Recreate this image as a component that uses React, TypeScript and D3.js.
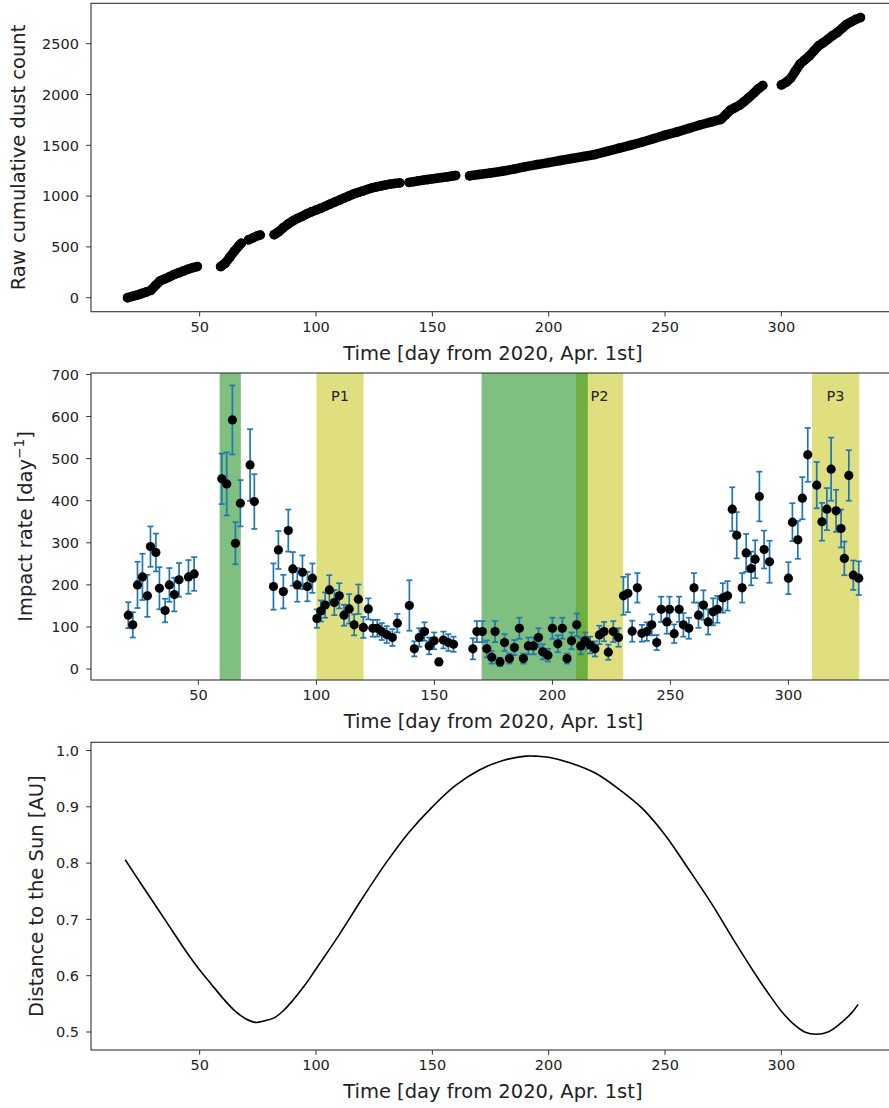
import React from 'react';
import * as d3 from 'd3';

// ---------- Top panel: raw cumulative dust count ----------
const cumDay = [
  19, 21, 23, 25, 27, 29, 31, 33, 35, 37, 39, 41, 43, 45, 47, 49,
  59, 61, 63, 65, 67, 68,
  71, 73, 75, 76,
  82, 84, 86, 88, 90, 92, 94, 96, 98, 100, 102, 104, 106, 108, 110, 112, 114, 116, 118, 120, 122, 124, 126, 128, 130, 132, 134, 136,
  140, 142, 144, 146, 148, 150, 152, 154, 156, 158, 160,
  166, 170, 175, 180, 185, 190, 195, 200, 205, 210, 215, 220, 225, 230, 235, 240, 245, 250, 255, 260, 265, 270, 274, 276, 278, 280, 282, 284, 286, 288, 290, 292,
  300, 302, 304, 306, 308, 310, 312, 314, 316, 318, 320, 322, 324, 326, 328, 330, 332, 334,
];
const cumCount = [
  0, 12, 25, 40, 55, 72, 120, 165, 185, 205, 228, 245, 262, 280, 295, 306,
  306, 340, 400, 460, 515, 537,
  570, 590, 610, 617,
  620, 650, 690, 725, 755, 780, 800, 825, 845, 862, 880, 900, 920, 940, 960, 980, 1000, 1020, 1035, 1050, 1065, 1080, 1090, 1100, 1110, 1118, 1125, 1130,
  1135, 1142, 1150, 1157, 1163, 1170, 1176, 1182, 1188, 1195, 1203,
  1200, 1212, 1228, 1245, 1265, 1290, 1310, 1330, 1350, 1370, 1390, 1410, 1440, 1470, 1500, 1530, 1565, 1600, 1630, 1665, 1700, 1730, 1755, 1800, 1845, 1870, 1895, 1930, 1970, 2010, 2055, 2089,
  2095, 2120, 2160, 2230, 2300, 2340, 2380, 2430, 2480, 2510, 2545, 2580, 2610, 2650, 2690, 2715, 2740, 2757,
];
const cumSegment = [
  0, 0, 0, 0, 0, 0, 0, 0, 0, 0, 0, 0, 0, 0, 0, 0,
  1, 1, 1, 1, 1, 1,
  2, 2, 2, 2,
  3, 3, 3, 3, 3, 3, 3, 3, 3, 3, 3, 3, 3, 3, 3, 3, 3, 3, 3, 3, 3, 3, 3, 3, 3, 3, 3, 3,
  4, 4, 4, 4, 4, 4, 4, 4, 4, 4, 4,
  5, 5, 5, 5, 5, 5, 5, 5, 5, 5, 5, 5, 5, 5, 5, 5, 5, 5, 5, 5, 5, 5, 5, 5, 5, 5, 5, 5, 5, 5, 5, 5,
  6, 6, 6, 6, 6, 6, 6, 6, 6, 6, 6, 6, 6, 6, 6, 6, 6, 6,
];
const topYTicks = [0, 500, 1000, 1500, 2000, 2500];

// ---------- Middle panel: impact rate ----------
const rateDay = [
  20.3, 22.2, 24.2, 26.3, 28.4, 29.7, 32.0, 33.5, 35.9, 37.7, 39.8, 41.8, 45.8, 48.2,
  59.9, 62.0, 64.4, 65.7, 67.8, 71.9, 73.7,
  81.8, 83.9, 86.0, 88.1, 90.0, 91.9, 94.1, 96.2, 98.3,
  100.2, 101.9, 103.7, 105.5, 107.6, 109.7, 111.7, 113.9, 116.0, 117.8, 119.9,
  122.0, 123.9, 125.8, 127.7, 129.8, 132.2, 134.3,
  139.4, 141.5, 143.6, 145.8, 147.8, 149.9, 151.9, 153.8, 155.9, 158.1,
  166.3, 168.0, 170.3, 172.2, 174.3, 175.7, 177.8, 179.7, 181.8, 183.9, 186.0, 187.7, 189.8, 192.0, 194.1, 195.9, 198.1,
  200.0, 202.3, 204.2, 206.2, 208.1, 210.3, 212.0, 213.9, 216.0, 218.0, 219.9, 221.9, 223.7, 225.8, 228.0,
  230.1, 232.0, 233.8, 236.0, 237.9, 240.0, 242.1, 244.2, 246.1, 248.5, 249.6, 251.6, 253.7, 255.5, 257.8,
  260.0, 261.9, 264.0, 266.0, 268.1, 269.9, 272.2, 274.2, 276.2, 278.1, 280.4, 282.1, 284.2, 285.9, 287.7, 289.7, 292.0,
  300.0, 301.7, 304.0, 305.9, 308.2, 312.0, 314.2, 316.3, 318.1, 320.2, 322.3, 323.7, 325.6, 327.5, 329.8,
];
const rateVal = [
  128, 105, 200, 219, 174, 291, 277, 192, 139, 200, 177, 212, 219, 226,
  452, 440, 592, 299, 394, 485, 398,
  196, 283, 184, 329, 238, 200, 230, 196, 216,
  120, 138, 152, 188, 158, 174, 128, 143, 105, 166, 99,
  143, 97, 97, 89, 82, 75, 109,
  151, 48, 75, 89, 55, 67, 17, 69, 63, 59,
  48, 89, 89, 48, 28, 89, 17, 63, 25, 51, 97, 25, 55, 55, 75, 41, 33,
  97, 60, 97, 25, 67, 105, 55, 67, 57, 48, 81, 89, 40, 89, 75,
  174, 180, 90, 193, 85, 89, 105, 63, 142, 112, 142, 84, 142, 105, 97,
  193, 128, 152, 112, 136, 142, 169, 174, 380, 318, 193, 276, 239, 261, 410, 284, 255,
  216, 349, 307, 406, 509, 437, 350, 380, 475, 376, 334, 263, 460, 223, 216,
];
const rateErr = [
  31, 30, 55, 55, 50, 48, 45, 50, 28, 40, 40, 40, 40, 40,
  60, 75, 82, 50, 55, 85, 65,
  55, 45, 40, 50, 40, 40, 40, 35, 35,
  22, 25, 30, 35, 30, 30, 25, 35, 25, 35, 25,
  25, 20, 20, 20, 20, 20, 22,
  60, 18, 22, 22, 20, 20, 8, 20, 20, 18,
  25, 25, 25, 20, 15, 25, 10, 20, 12, 18, 25, 12, 20, 20, 22, 18, 15,
  25, 20, 25, 12, 20, 27, 20, 20, 20, 18, 22, 23, 18, 25, 22,
  45, 45, 25, 35, 20, 22, 25, 18, 30, 28, 30, 22, 30, 28, 25,
  35, 30, 35, 30, 32, 32, 35, 35, 52, 55, 35, 45, 40, 45, 59, 45, 50,
  38, 45, 45, 50, 64, 55, 45, 50, 75, 50, 45, 40, 60, 35, 40,
];
const greenBands = [[59, 68], [170, 215]];
const yellowBands = [[100, 120], [210, 230], [310, 330]];
const periodLabels = ['P1', 'P2', 'P3'];
const midYTicks = [0, 100, 200, 300, 400, 500, 600, 700];

// ---------- Bottom panel: distance to the Sun ----------
const distDay = [
  18, 25, 35, 45, 50, 55, 60, 65, 70, 74, 78, 82, 86, 90, 95, 100, 110, 120, 130, 140, 150, 160, 170, 180,
  190, 195, 200, 210, 220, 230, 240, 250, 260, 270, 280, 290, 295, 300, 305, 310, 315, 320, 325, 330, 333,
];
const distAU = [
  0.806, 0.762, 0.700, 0.638, 0.610, 0.585, 0.560, 0.538, 0.523, 0.517, 0.520, 0.525, 0.538, 0.556, 0.582, 0.612,
  0.673, 0.738, 0.800, 0.855, 0.900, 0.938, 0.965, 0.982,
  0.990, 0.990, 0.988, 0.977, 0.960, 0.932, 0.898, 0.850, 0.790, 0.728, 0.660, 0.595, 0.565, 0.537, 0.515, 0.500,
  0.496, 0.500, 0.514, 0.533, 0.549,
];
const botYTicks = [0.5, 0.6, 0.7, 0.8, 0.9, 1.0];

const xTicks = [50, 100, 150, 200, 250, 300];
const xLabel = 'Time [day from 2020, Apr. 1st]';
const FONT = "'DejaVu Sans', sans-serif";
const TICK_FS = 14.5;
const LABEL_FS = 19.5;
const SPINE = '#333';

function Frame({ xs, ys, yTicks, yFmt, ylabel, ylabelX }: any) {
  const [x0, x1] = xs.range();
  const [yb, yt] = ys.range();
  return (
    <g fontFamily={FONT}>
      <rect x={x0} y={yt} width={x1 - x0} height={yb - yt} fill="none" stroke={SPINE} strokeWidth={1.1} />
      {xTicks.map((t) => (
        <g key={'x' + t}>
          <line x1={xs(t)} x2={xs(t)} y1={yb} y2={yb + 4.8} stroke={SPINE} strokeWidth={1} />
          <text x={xs(t)} y={yb + 9} dy="0.76em" textAnchor="middle" fontSize={TICK_FS} fill="#222">{t}</text>
        </g>
      ))}
      {yTicks.map((t: number) => (
        <g key={'y' + t}>
          <line x1={x0 - 4.8} x2={x0} y1={ys(t)} y2={ys(t)} stroke={SPINE} strokeWidth={1} />
          <text x={x0 - 12} y={ys(t)} dy="0.36em" textAnchor="end" fontSize={TICK_FS} fill="#222">{yFmt(t)}</text>
        </g>
      ))}
      <text x={(x0 + x1) / 2} y={yb + 48} textAnchor="middle" fontSize={LABEL_FS} fill="#222">{xLabel}</text>
      <text transform={`translate(${ylabelX},${(yb + yt) / 2}) rotate(-90)`} dy="0.35em" textAnchor="middle" fontSize={LABEL_FS} fill="#222">{ylabel}</text>
    </g>
  );
}

export default function App() {
  const xTop = d3.scaleLinear().domain([3.3, 348.7]).range([91, 894.7]);
  const yTop = d3.scaleLinear().domain([-138, 2898]).range([311.7, 3.3]);
  const xMid = d3.scaleLinear().domain([4.5, 345.5]).range([91, 895.8]);
  const yMid = d3.scaleLinear().domain([-26, 703.5]).range([680, 373]);
  const xBot = d3.scaleLinear().domain([3.3, 348.7]).range([91, 894.7]);
  const yBot = d3.scaleLinear().domain([0.468, 1.0146]).range([1050, 742.3]);

  const cumPts = cumDay.map((d, i) => ({ d, v: cumCount[i], s: cumSegment[i] }));
  const segs = d3.groups(cumPts, (p) => p.s).map((g) => g[1]);
  const cumLine = d3.line<any>().x((p) => xTop(p.d)).y((p) => yTop(p.v));

  const distLine = d3
    .line<number>()
    .x((_, i) => xBot(distDay[i]))
    .y((v) => yBot(v))
    .curve(d3.curveCatmullRom.alpha(0.5));

  const [myb, myt] = yMid.range();

  return (
    <svg width={889} height={1108} style={{ position: 'absolute', left: 0, top: 0, display: 'block', background: '#fff' }}>
      <rect width={889} height={1108} fill="#fff" />
      {/* Top panel */}
      <g>
        {segs.map((s, i) => (
          <path key={i} d={cumLine(s) || ''} fill="none" stroke="#000" strokeWidth={9.5} strokeLinecap="round" strokeLinejoin="round" />
        ))}
        {cumPts.map((p, i) => (
          <circle key={i} cx={xTop(p.d)} cy={yTop(p.v)} r={4.75} fill="#000" />
        ))}
        <Frame xs={xTop} ys={yTop} yTicks={topYTicks} yFmt={(t: number) => String(t)} ylabel="Raw cumulative dust count" ylabelX={18} />
      </g>

      {/* Middle panel */}
      <g>
        {yellowBands.map((b, i) => (
          <rect key={'yb' + i} x={xMid(b[0])} y={myt} width={xMid(b[1]) - xMid(b[0])} height={myb - myt} fill="rgb(191,191,0)" fillOpacity={0.5} />
        ))}
        {greenBands.map((b, i) => (
          <rect key={'gb' + i} x={xMid(b[0])} y={myt} width={xMid(b[1]) - xMid(b[0])} height={myb - myt} fill="rgb(0,128,0)" fillOpacity={0.5} />
        ))}
        {yellowBands.map((b, i) => (
          <text key={'pl' + i} x={xMid((b[0] + b[1]) / 2)} y={yMid(650)} dy="0.36em" textAnchor="middle" fontFamily={FONT} fontSize={14.5} fill="#222">{periodLabels[i]}</text>
        ))}
        {rateDay.map((d, i) => {
          const x = xMid(d);
          const y1 = yMid(rateVal[i] - rateErr[i]);
          const y2 = yMid(rateVal[i] + rateErr[i]);
          return (
            <g key={'e' + i} stroke="#1f77b4" strokeWidth={1.7}>
              <line x1={x} x2={x} y1={y1} y2={y2} />
              <line x1={x - 3} x2={x + 3} y1={y1} y2={y1} />
              <line x1={x - 3} x2={x + 3} y1={y2} y2={y2} />
            </g>
          );
        })}
        {rateDay.map((d, i) => (
          <circle key={'c' + i} cx={xMid(d)} cy={yMid(rateVal[i])} r={4.6} fill="#000" />
        ))}
        <Frame
          xs={xMid}
          ys={yMid}
          yTicks={midYTicks}
          yFmt={(t: number) => String(t)}
          ylabel={
            <>
              Impact rate [day<tspan dy="-0.55em" fontSize="0.7em">−1</tspan><tspan dy="0.385em">]</tspan>
            </>
          }
          ylabelX={25}
        />
      </g>

      {/* Bottom panel */}
      <g>
        <path d={distLine(distAU) || ''} fill="none" stroke="#000" strokeWidth={1.6} />
        <Frame xs={xBot} ys={yBot} yTicks={botYTicks} yFmt={(t: number) => t.toFixed(1)} ylabel="Distance to the Sun [AU]" ylabelX={36} />
      </g>
    </svg>
  );
}
